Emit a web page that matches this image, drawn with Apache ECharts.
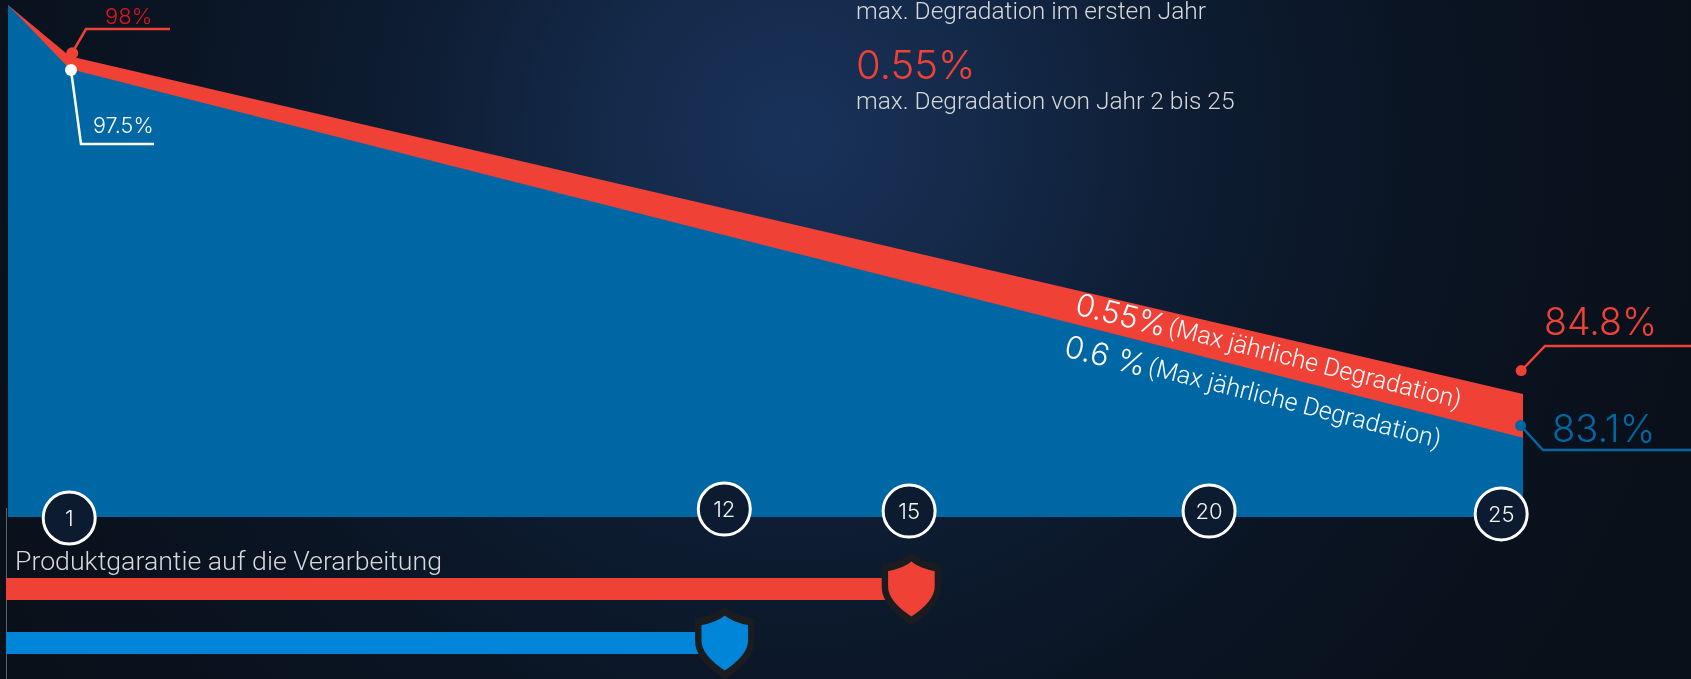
<!DOCTYPE html>
<html><head><meta charset="utf-8">
<style>html,body{margin:0;padding:0;background:#0a111c}#c{width:1691px;height:679px}</style>
<script src="https://cdn.jsdelivr.net/npm/echarts@6/dist/echarts.min.js"></script>
</head><body><div id="c"></div>
<script>
const degradationYears = [0, 1.02, 25];
const topCurve = [100, 98, 84.8];
const bottomCurve = [100, 97.5, 83.1];
const milestoneLabels = ['1', '12', '15', '20', '25'];
const milestoneX = [1.01, 11.82, 14.87, 19.82, 24.64];
const milestoneY = [79.96, 80.31, 80.23, 80.23, 80.12];
const warrantyNames = ['Rot', 'Blau'];
const warrantyYears = [14.99, 11.9];
const calloutDotX = [1.06, 1.04, 24.97, 24.96];
const calloutDotY = [98.12, 97.46, 85.72, 83.57];

const RED = '#F04137', BLUE = '#0067A5', BAR_BLUE = '#0085D8', GREY = '#d6d8da';
const FONT = 'Roboto', NUM = 'Inter';
const SHIELD = 'path://M50 0C62 11 80 17 100 20L100 55C100 82 72 104 50 118C28 104 0 82 0 55L0 20C20 17 38 11 50 0Z';

const chart = echarts.init(document.getElementById('c'), null, {renderer: 'canvas'});
const txt = (text, x, y, size, fill, fam) => ({type: 'text', x, y, z: 50, style: {
  text, fill, font: `300 ${size}px ${fam || FONT}`, textVerticalAlign: 'middle'}});
const leader = (points, stroke) => ({type: 'polyline', z: 40, shape: {points}, style: {stroke, lineWidth: 2.5, fill: null}});
const richStyle = {a: {font: `300 31px ${NUM}`, fill: '#fff'}, b: {font: `300 25px ${FONT}`, fill: '#fff'}};

chart.setOption({
  animation: false,
  backgroundColor: {type: 'radial', x: 0.47, y: 0.2, r: 1.35, colorStops: [
    {offset: 0, color: '#19325a'}, {offset: 0.2, color: '#142a4a'}, {offset: 0.42, color: '#0e1d33'},
    {offset: 0.7, color: '#0a1422'}, {offset: 1, color: '#09101a'}]},
  grid: [
    {left: 8, top: 5, width: 1515, height: 512},
    {left: 6, top: 562, width: 1510, height: 108}
  ],
  xAxis: [
    {type: 'value', gridIndex: 0, min: 0, max: 25, show: false},
    {type: 'value', gridIndex: 1, min: 0, max: 25, show: false}
  ],
  yAxis: [
    {type: 'value', gridIndex: 0, min: 80, max: 100, show: false},
    {type: 'category', gridIndex: 1, data: warrantyNames, inverse: true, show: false}
  ],
  series: [
    {type: 'line', name: 'Oberkante', symbol: 'none', z: 2, lineStyle: {width: 0}, areaStyle: {color: RED, opacity: 1},
     data: degradationYears.map((x, i) => [x, topCurve[i]])},
    {type: 'line', name: 'Unterkante', symbol: 'none', z: 3, lineStyle: {width: 0}, areaStyle: {color: BLUE, opacity: 1},
     data: degradationYears.map((x, i) => [x, bottomCurve[i]])},
    {type: 'scatter', name: 'Jahre', z: 10, clip: false, symbol: 'circle', symbolSize: 52,
     itemStyle: {color: '#0d1b30', borderColor: '#fff', borderWidth: 3, opacity: 1},
     label: {show: true, position: 'inside', offset: [0, 1], color: '#f2f4f5', fontFamily: NUM, fontWeight: 300, fontSize: 22, formatter: p => p.data[2]},
     data: milestoneX.map((x, i) => [x, milestoneY[i], milestoneLabels[i]])},
    {type: 'scatter', name: 'Punkte', z: 45, clip: false, symbol: 'circle',
     data: calloutDotX.map((x, i) => ({value: [x, calloutDotY[i]],
       symbolSize: i > 1 ? 11 : 12,
       itemStyle: {color: [RED, '#fff', RED, BLUE][i], opacity: 1}}))},
    {type: 'bar', name: 'Garantie', xAxisIndex: 1, yAxisIndex: 1, barWidth: 22, z: 5,
     data: warrantyYears.map((v, i) => ({value: v, itemStyle: {color: i ? BAR_BLUE : RED}}))},
    {type: 'scatter', name: 'Schild', xAxisIndex: 1, yAxisIndex: 1, z: 8, clip: false, symbol: SHIELD, symbolSize: [53, 64], symbolKeepAspect: false,
     data: warrantyYears.map((v, i) => ({value: [v, warrantyNames[i]],
       itemStyle: {color: i ? BAR_BLUE : RED, borderColor: '#1a1c20', borderWidth: 7, opacity: 1}}))}
  ],
  graphic: [
    {type: 'rect', z: 1, shape: {x: 6, y: 508, width: 1, height: 171}, style: {fill: '#5a626c'}},
    leader([[72, 53], [86, 29], [170, 29]], RED),
    leader([[71, 70], [81, 144], [154, 144]], '#fff'),
    leader([[1521, 371], [1545, 346], [1691, 346]], RED),
    leader([[1521, 426], [1543, 450], [1691, 450]], BLUE),
    txt('98%', 105, 17, 22, '#e3151c', NUM),
    txt('97.5%', 93, 127, 21.5, '#fff', NUM),
    txt('84.8%', 1544, 324, 37.5, RED, NUM),
    txt('83.1%', 1552, 431, 38, BLUE, NUM),
    txt('max. Degradation im ersten Jahr', 856, 13, 24.5, GREY),
    txt('0.55%', 856, 67, 40, RED, NUM),
    txt('max. Degradation von Jahr 2 bis 25', 856, 103, 24.5, GREY),
    txt('Produktgarantie auf die Verarbeitung', 15, 563, 26.7, GREY),
    {type: 'text', x: 1076, y: 305, rotation: -14.2 * Math.PI / 180, z: 50, style: {
      text: '{a|0.55%} {b|(Max jährliche Degradation)}', fill: '#fff', textVerticalAlign: 'middle', rich: richStyle}},
    {type: 'text', x: 1065, y: 347, rotation: -14.2 * Math.PI / 180, z: 50, style: {
      text: '{a|0.6 %} {b|(Max jährliche Degradation)}', fill: '#fff', textVerticalAlign: 'middle', rich: richStyle}}
  ]
});
</script></body></html>
